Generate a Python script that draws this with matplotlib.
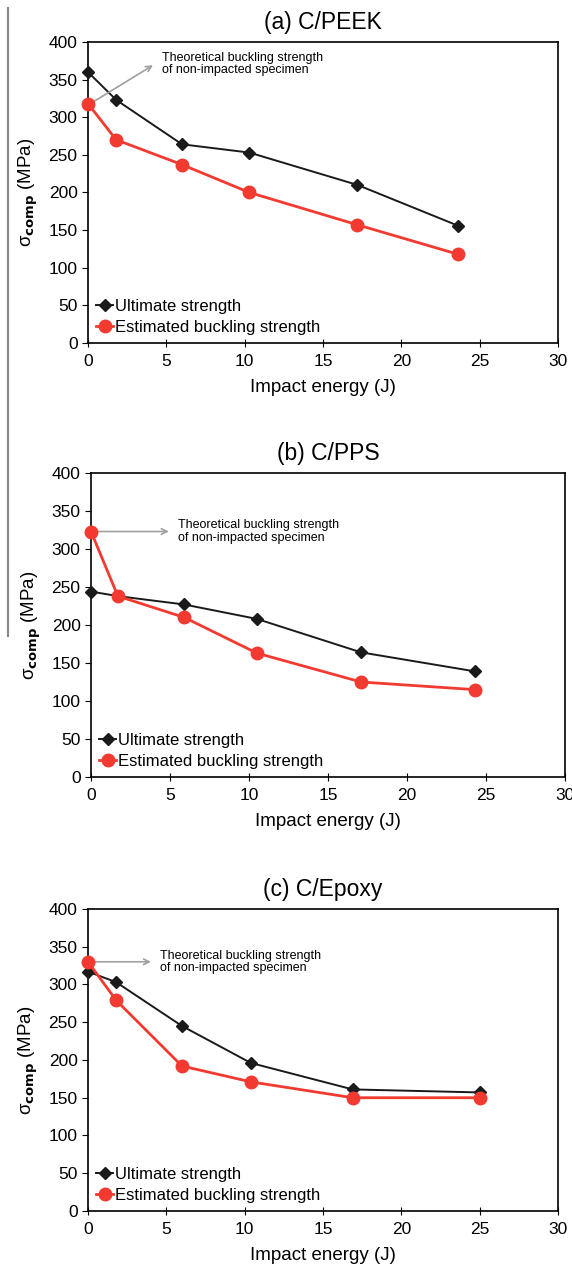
import matplotlib
matplotlib.use("Agg")
import matplotlib.pyplot as plt
from matplotlib.lines import Line2D

plt.rcParams['font.family'] = ['Liberation Sans', 'DejaVu Sans']
plt.rcParams['mathtext.default'] = 'regular'

titles = ["(a) C/PEEK", "(b) C/PPS", "(c) C/Epoxy"]

# impact energy (J) and strengths (MPa) for each panel
peek_x = [0, 1.8, 6.0, 10.3, 17.2, 23.6]
peek_ult = [360, 323, 264, 253, 210, 156]
peek_buck = [318, 270, 237, 200, 157, 118]

pps_x = [0, 1.7, 5.9, 10.5, 17.1, 24.3]
pps_ult = [244, 238, 227, 208, 164, 139]
pps_buck = [323, 238, 210, 163, 125, 115]

epoxy_x = [0, 1.8, 6.0, 10.4, 16.9, 25.0]
epoxy_ult = [317, 303, 245, 196, 161, 157]
epoxy_buck = [330, 279, 192, 171, 150, 150]

# where the annotation arrow ends (data coords)
arrow_end = [(4.3, 371), (5.1, 323), (4.2, 330)]

xs = [peek_x, pps_x, epoxy_x]
ults = [peek_ult, pps_ult, epoxy_ult]
bucks = [peek_buck, pps_buck, epoxy_buck]

xticks = [0, 5, 10, 15, 20, 25, 30]
yticks = [0, 50, 100, 150, 200, 250, 300, 350, 400]

fig = plt.figure(figsize=(5.72, 12.67), dpi=100)
boxes = [[0.1538, 0.7293, 0.8217, 0.2376],
         [0.1591, 0.3867, 0.8287, 0.2400],
         [0.1538, 0.0442, 0.8217, 0.2384]]

red = '#f23a30'
for i in range(3):
    ax = fig.add_axes(boxes[i])
    ax.plot(xs[i], ults[i], color='#1a1a1a', lw=1.4, marker='D', ms=6,
            label='Ultimate strength', zorder=3, clip_on=False)
    ax.plot(xs[i], bucks[i], color=red, lw=2, marker='o', ms=9,
            label='Estimated buckling strength', zorder=4, clip_on=False)
    ax.annotate('', xy=arrow_end[i], xytext=(0.15, bucks[i][0]),
                arrowprops=dict(arrowstyle='->', color='#a0a0a0', lw=1.2))
    ax.text(arrow_end[i][0] + 0.4, arrow_end[i][1],
            'Theoretical buckling strength\nof non-impacted specimen',
            fontsize=9, va='center', ha='left', linespacing=1.05)
    ax.set_xlim(0, 30)
    ax.set_ylim(0, 400)
    ax.set_xticks(xticks)
    ax.set_yticks(yticks)
    ax.tick_params(axis='x', direction='inout', length=6, labelsize=12.5, pad=5)
    ax.tick_params(axis='y', direction='out', length=4, labelsize=12.5)
    for s in ax.spines.values():
        s.set_linewidth(1.2)
    ax.set_xlabel('Impact energy (J)', fontsize=13.5, labelpad=7)
    ax.set_ylabel(r'σ$_{\mathbf{comp}}$ (MPa)', fontsize=13.5, labelpad=6)
    ax.set_title(titles[i], fontsize=16.5, pad=9)
    ax.legend(loc='lower left', frameon=False, fontsize=12, handlelength=1.0,
              handletextpad=0.1, borderaxespad=0.3, labelspacing=0.35,
              borderpad=0.2)

# grey scan artefact at the left edge
fig.add_artist(Line2D([8 / 572, 8 / 572], [1 - 8 / 1267, 1 - 636 / 1267],
                      color='#888888', lw=1.5))

fig.savefig('out.png', dpi=100)
